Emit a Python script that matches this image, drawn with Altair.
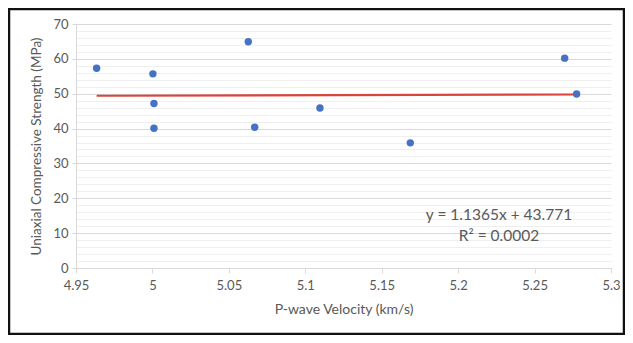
import altair as alt
import pandas as pd

# Data
velocity = [4.9635, 5.0003, 5.0010, 5.0010, 5.0627, 5.0669, 5.1096, 5.1687, 5.2697, 5.2775]
strength = [57.3, 55.7, 47.2, 40.1, 64.9, 40.4, 45.9, 35.9, 60.2, 49.9]
slope = 1.1365
intercept = 43.771
eq_lines = ["y = 1.1365x + 43.771", "R² = 0.0002"]
x_ticks = [4.95, 5.0, 5.05, 5.1, 5.15, 5.2, 5.25, 5.3]
y_ticks = list(range(0, 72, 2))

df = pd.DataFrame({"v": velocity, "s": strength})
xmin, xmax = min(velocity), max(velocity)
trend = pd.DataFrame({"v": [xmin, xmax], "s": [slope * xmin + intercept, slope * xmax + intercept]})
eq = pd.DataFrame({"t": ["\n".join(eq_lines)]})

FONT = "Lato"
GRAY = "#595959"
W, H = 535, 244

xscale = alt.Scale(domain=[4.95, 5.3], nice=False, zero=False)
yscale = alt.Scale(domain=[0, 70], nice=False)

xaxis = alt.Axis(
    values=x_ticks, title="P-wave Velocity (km/s)", grid=False,
    labelExpr="format(datum.value, '.3~f')", labelFlush=False,
    domainColor="#d9d9d9", tickColor="#d9d9d9", tickSize=5,
    labelColor=GRAY, labelFont=FONT, labelFontSize=13, labelPadding=6,
    titleColor=GRAY, titleFont=FONT, titleFontSize=14, titleFontWeight="normal",
    titlePadding=10,
)
yaxis = alt.Axis(
    values=y_ticks, title="Uniaxial Compressive Strength (MPa)",
    labelExpr="datum.value % 10 === 0 ? datum.label : ''",
    grid=True,
    gridColor=alt.condition("datum.value % 10 === 0", alt.value("#d9d9d9"), alt.value("#efefef")),
    tickOpacity=alt.condition("datum.value % 10 === 0", alt.value(1), alt.value(0)),
    domainColor="#d9d9d9", tickColor="#d9d9d9", tickSize=4,
    labelColor=GRAY, labelFont=FONT, labelFontSize=13, labelPadding=4,
    titleColor=GRAY, titleFont=FONT, titleFontSize=13.5, titleFontWeight="normal",
    titlePadding=9,
)

points = alt.Chart(df).mark_circle(size=55, color="#4472C4", opacity=1).encode(
    x=alt.X("v:Q", scale=xscale, axis=xaxis),
    y=alt.Y("s:Q", scale=yscale, axis=yaxis),
)

line = alt.Chart(trend).mark_line(color="#D9443B", strokeWidth=2.2).encode(
    x=alt.X("v:Q", scale=xscale, axis=xaxis),
    y=alt.Y("s:Q", scale=yscale, axis=yaxis),
)

text = alt.Chart(eq).mark_text(
    font=FONT, fontSize=15.5, color=GRAY, align="center", baseline="middle",
    lineBreak="\n", lineHeight=21,
).encode(
    x=alt.value(423),
    y=alt.value(191),
    text="t:N",
)

frame = alt.Chart(eq).mark_rect(fill=None, stroke="#111111", strokeWidth=2.5, clip=False).encode(
    x=alt.value(-67), x2=alt.value(W + 13),
    y=alt.value(-15), y2=alt.value(H + 66),
)

chart = alt.layer(frame, line, points, text).properties(
    width=W, height=H,
    padding={"left": 68, "top": 16, "right": 14, "bottom": 67},
    autosize=alt.AutoSizeParams(type="none"),
    background="white",
).configure_view(stroke=None)

chart.save("out.html", embed_options={"renderer": "svg", "actions": False})
